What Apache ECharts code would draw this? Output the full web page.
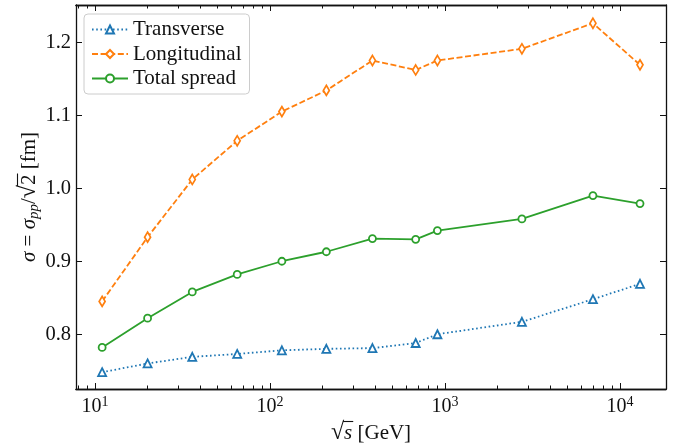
<!DOCTYPE html>
<html>
<head>
<meta charset="utf-8">
<script src="https://cdn.jsdelivr.net/npm/echarts@6/dist/echarts.min.js"></script>
<style>
  html, body { margin: 0; padding: 0; background: #fff; }
  #chart { width: 685px; height: 448px; }
</style>
</head>
<body>
<div id="chart"></div>
<script>
// sqrt(s) in GeV
const energy = [11, 20, 36, 65, 117, 210, 385, 680, 905, 2750, 7000, 13000];
const transverse = [0.748, 0.760, 0.769, 0.773, 0.778, 0.780, 0.781, 0.788, 0.800, 0.817, 0.848, 0.869];
const longitudinal = [0.845, 0.933, 1.012, 1.065, 1.105, 1.134, 1.175, 1.162, 1.175, 1.191, 1.226, 1.169];
const totalSpread = [0.782, 0.822, 0.858, 0.882, 0.900, 0.913, 0.931, 0.930, 0.942, 0.958, 0.990, 0.979];

const majorTicks = [10, 100, 1000, 10000];
const minorTicks = [8, 9, 20, 30, 40, 50, 60, 70, 80, 90, 200, 300, 400, 500, 600, 700, 800, 900,
  2000, 3000, 4000, 5000, 6000, 7000, 8000, 9000];

const serif = '"Liberation Serif", "Times New Roman", serif';
const ink = '#111';

const ctx = document.createElement('canvas').getContext('2d');
function textWidth(t, size, italic) {
  ctx.font = (italic ? 'italic ' : '') + size + 'px ' + serif;
  return ctx.measureText(t).width;
}

// lays out math-like label pieces left to right, centred on 0
function mathLabel(pieces) {
  let x = 0;
  const parts = [];
  pieces.forEach((p) => {
    const width = textWidth(p.t, p.size, p.italic);
    parts.push({ p, x, width });
    x += width;
  });
  const shift = -x / 2;
  const children = [];
  parts.forEach(({ p, x, width }) => {
    children.push({
      type: 'text',
      x: x + shift,
      y: p.dy || 0,
      style: {
        text: p.t, fill: ink, fontSize: p.size, fontFamily: serif,
        fontStyle: p.italic ? 'italic' : 'normal', align: 'left', verticalAlign: 'middle',
      },
    });
    if (p.over) {
      children.push({
        type: 'line',
        shape: { x1: x + shift - 1, y1: -11.5, x2: x + shift + width + 1, y2: -11.5 },
        style: { stroke: ink, lineWidth: 1.1 },
      });
    }
  });
  return children;
}

const chart = echarts.init(document.getElementById('chart'));

const frame = { show: true, lineStyle: { color: ink, width: 1.3 } };
function xAx(position, ticks, length, labels) {
  return {
    type: 'log', logBase: 10, min: 7.8, max: 18300, position,
    axisLine: frame,
    axisTick: { show: true, inside: true, length, customValues: ticks, lineStyle: { color: ink, width: 1 } },
    axisLabel: labels ? {
      show: true, customValues: majorTicks, margin: 6, color: ink, fontFamily: serif, fontSize: 20,
      formatter: (v) => '10{s|' + Math.round(Math.log10(v)) + '}',
      rich: { s: { fontSize: 14, fontFamily: serif, color: ink, verticalAlign: 'top', padding: [0, 0, 9, 0] } },
    } : { show: false },
    splitLine: { show: false },
    minorTick: { show: false },
  };
}
function yAx(position, labels) {
  return {
    type: 'value', min: 0.725, max: 1.251, splitNumber: 5, position,
    axisLine: frame,
    axisTick: { show: true, inside: true, length: 6, lineStyle: { color: ink, width: 1 } },
    axisLabel: labels ? {
      show: true, margin: 5, color: ink, fontFamily: serif, fontSize: 20.5,
      showMinLabel: false, showMaxLabel: false,
      formatter: (v) => (Math.abs(v * 10 - Math.round(v * 10)) < 1e-6 ? v.toFixed(1) : ''),
    } : { show: false },
    splitLine: { show: false },
  };
}

function line(name, values, color, dash, symbol, size) {
  return {
    name, type: 'line',
    data: energy.map((e, i) => [e, values[i]]),
    symbol, symbolSize: size, showSymbol: true,
    lineStyle: { color, width: 1.8, type: dash },
    itemStyle: { color: '#fff', borderColor: color, borderWidth: 1.8 },
    emphasis: { disabled: true },
    z: 3,
  };
}

chart.setOption({
  animation: false,
  grid: { left: 76, right: 19, top: 5, bottom: 59 },
  xAxis: [
    xAx('bottom', majorTicks, 6, true),
    xAx('bottom', minorTicks, 3.5, false),
    xAx('top', majorTicks, 6, false),
    xAx('top', minorTicks, 3.5, false),
  ],
  yAxis: [yAx('left', true), yAx('right', false)],
  legend: {
    orient: 'vertical', left: 84, top: 14,
    itemWidth: 36, itemHeight: 10, itemGap: 3.5,
    padding: [5, 8, 5, 7],
    borderColor: '#ccc', borderWidth: 1, borderRadius: 4,
    backgroundColor: 'rgba(255,255,255,0.85)',
    textStyle: { fontFamily: serif, fontSize: 21, color: ink, lineHeight: 21 },
    data: ['Transverse', 'Longitudinal', 'Total spread'],
  },
  series: [
    line('Transverse', transverse, '#1f77b4', [1.6, 2.6], 'triangle', 8),
    line('Longitudinal', longitudinal, '#ff7f0e', [6, 2.6], 'diamond', [6, 10]),
    line('Total spread', totalSpread, '#2ca02c', 'solid', 'circle', 7),
  ],
  graphic: [
    {
      type: 'group', x: 371, y: 433,
      children: mathLabel([
        { t: '√', size: 24 },
        { t: 's', size: 21, italic: true, over: true },
        { t: ' [GeV]', size: 21 },
      ]),
    },
    {
      type: 'group', x: 29, y: 197, rotation: Math.PI / 2,
      children: mathLabel([
        { t: 'σ', size: 21, italic: true },
        { t: ' = ', size: 21 },
        { t: 'σ', size: 21, italic: true },
        { t: 'pp', size: 15, italic: true, dy: 5 },
        { t: '/', size: 21 },
        { t: '√', size: 24 },
        { t: '2', size: 21, over: true },
        { t: ' [fm]', size: 21 },
      ]),
    },
  ],
});
</script>
</body>
</html>
